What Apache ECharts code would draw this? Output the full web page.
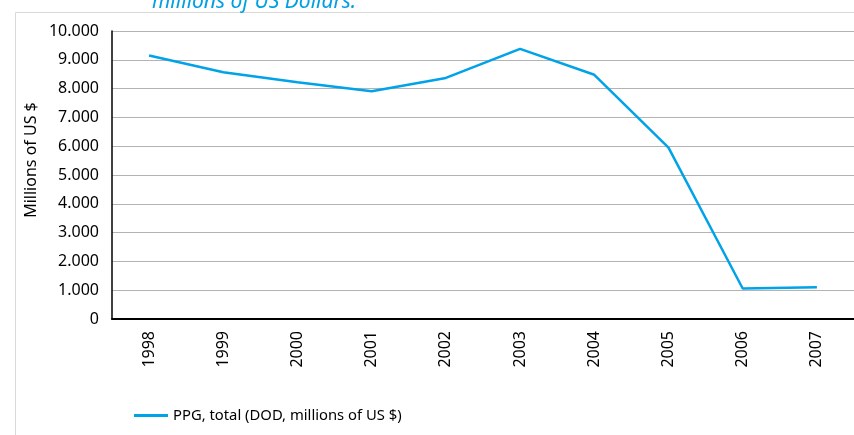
<!DOCTYPE html>
<html>
<head>
<meta charset="utf-8">
<script src="https://cdn.jsdelivr.net/npm/echarts@6/dist/echarts.min.js"></script>
<style>
  html, body { margin: 0; padding: 0; background: #fff; }
  #chart { width: 854px; height: 435px; }
</style>
</head>
<body>
<div id="chart"></div>
<script>
// Public and publicly guaranteed debt outstanding, 1998–2007
const years = ['1998', '1999', '2000', '2001', '2002', '2003', '2004', '2005', '2006', '2007'];
const ppgTotal = [9150, 8570, 8220, 7910, 8370, 9380, 8480, 5950, 1060, 1100];
const seriesName = 'PPG, total (DOD, millions of US $)';
const yAxisTitle = 'Millions of US $';
const yTicks = { min: 0, max: 10000, interval: 1000 };

const fontFamily = '"Noto Sans", "Open Sans", sans-serif';

// thousands separated with a dot: 10000 -> "10.000"
function fmtThousands(v) {
  return String(v).replace(/\B(?=(\d{3})+(?!\d))/g, '.');
}

const chart = echarts.init(document.getElementById('chart'), null, { renderer: 'canvas' });

chart.setOption({
  animation: false,
  backgroundColor: '#ffffff',
  textStyle: { fontFamily: fontFamily },
  graphic: [
    {
      type: 'polyline',
      silent: true,
      shape: { points: [[15.5, 435], [15.5, 12.5], [854, 12.5]] },
      style: { stroke: '#d9d9d9', lineWidth: 1, fill: null }
    },
    {
      type: 'text',
      silent: true,
      style: {
        text: 'millions of US Dollars.',
        x: 152,
        y: 13,
        textVerticalAlign: 'bottom',
        fill: '#00a0e3',
        font: 'italic 21px ' + fontFamily
      }
    },
    {
      // vertical axis title
      type: 'text',
      silent: true,
      x: 31,
      y: 160,
      rotation: Math.PI / 2,
      style: {
        text: yAxisTitle,
        x: 0,
        y: 0,
        align: 'center',
        verticalAlign: 'middle',
        fill: '#000',
        font: '16px ' + fontFamily
      }
    }
  ],
  grid: { left: 112, top: 31, width: 760, height: 288, containLabel: false },
  legend: {
    left: 129,
    top: 403,
    icon: 'rect',
    itemWidth: 34,
    itemHeight: 3,
    itemGap: 10,
    textStyle: { fontSize: 14.8, color: '#000', fontFamily: fontFamily },
    data: [seriesName]
  },
  xAxis: {
    type: 'category',
    data: years,
    boundaryGap: true,
    axisLine: { show: true, lineStyle: { color: '#000', width: 2 } },
    axisTick: { show: false },
    axisLabel: { rotate: 90, margin: 12, fontSize: 16, color: '#000', fontFamily: fontFamily },
    splitLine: { show: false }
  },
  yAxis: {
    type: 'value',
    min: yTicks.min,
    max: yTicks.max,
    interval: yTicks.interval,
    axisLine: { show: true, lineStyle: { color: '#000', width: 1.5 } },
    axisTick: { show: false },
    axisLabel: {
      margin: 13,
      fontSize: 16,
      color: '#000',
      fontFamily: fontFamily,
      formatter: fmtThousands
    },
    splitLine: { show: true, lineStyle: { color: '#b3b3b3', width: 1 } }
  },
  series: [
    {
      name: seriesName,
      type: 'line',
      data: ppgTotal,
      symbol: 'none',
      lineStyle: { color: '#00a2e8', width: 2.5 },
      itemStyle: { color: '#00a2e8' }
    }
  ]
});
</script>
</body>
</html>
